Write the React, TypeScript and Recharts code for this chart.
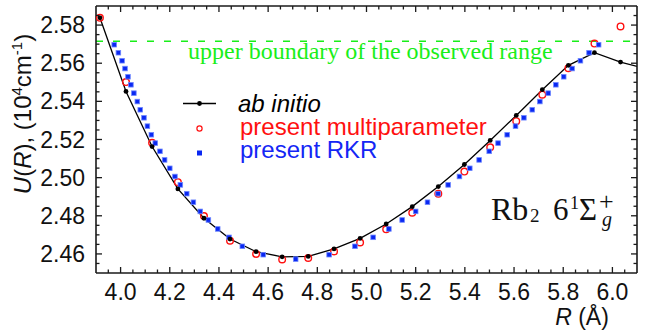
import React from 'react';
import { ComposedChart, Line, Scatter, XAxis, YAxis, ReferenceLine, Legend } from 'recharts';

// ab initio points (R in Å, U in 10^4 cm^-1)
const abInitioR = [3.916, 4.022, 4.128, 4.233, 4.339, 4.445, 4.551, 4.657, 4.763, 4.868, 4.974, 5.080, 5.186, 5.292, 5.398, 5.503, 5.609, 5.715, 5.821, 5.927, 6.033, 6.138];
const abInitioU = [2.5838, 2.5452, 2.5163, 2.4941, 2.4787, 2.4678, 2.4612, 2.4585, 2.4587, 2.4626, 2.4682, 2.4757, 2.4848, 2.4953, 2.5069, 2.5195, 2.5326, 2.5461, 2.5589, 2.5655, 2.5606, 2.5571];

// present multiparameter potential
const multiR = [3.916, 4.022, 4.128, 4.233, 4.339, 4.445, 4.551, 4.657, 4.763, 4.868, 4.974, 5.080, 5.186, 5.292, 5.398, 5.503, 5.609, 5.715, 5.821, 5.927, 6.033];
const multiU = [2.5838, 2.5501, 2.5183, 2.4976, 2.4799, 2.4669, 2.4600, 2.4571, 2.4579, 2.4613, 2.4660, 2.4729, 2.4816, 2.4915, 2.5032, 2.5159, 2.5296, 2.5435, 2.5574, 2.5703, 2.5793];

// present RKR turning points: level energies, inner and outer branches
const rkrU = [2.5697, 2.5655, 2.5613, 2.5572, 2.5529, 2.5487, 2.5443, 2.5399, 2.5356, 2.5314, 2.5270, 2.5225, 2.5181, 2.5138, 2.5093, 2.5049, 2.5006, 2.4962, 2.4916, 2.4871, 2.4823, 2.4778, 2.4731, 2.4687, 2.4640, 2.4596];
const rkrInner = [3.974, 3.991, 4.006, 4.018, 4.030, 4.042, 4.054, 4.068, 4.080, 4.095, 4.109, 4.125, 4.141, 4.160, 4.179, 4.200, 4.221, 4.243, 4.269, 4.296, 4.324, 4.357, 4.395, 4.441, 4.495, 4.580];
const rkrOuter = [5.944, 5.905, 5.870, 5.836, 5.802, 5.770, 5.739, 5.705, 5.674, 5.640, 5.606, 5.572, 5.535, 5.499, 5.458, 5.420, 5.378, 5.332, 5.291, 5.248, 5.200, 5.145, 5.091, 5.027, 4.953, 4.848];
const rkrMinR = 4.712;
const rkrMinU = 2.4573;

const upperBoundary = 2.5715;

const xLabelTicks = [4.0, 4.2, 4.4, 4.6, 4.8, 5.0, 5.2, 5.4, 5.6, 5.8, 6.0];
const yLabelTicks = [2.46, 2.48, 2.50, 2.52, 2.54, 2.56, 2.58];

const X_DOMAIN = [3.9, 6.1];
const Y_DOMAIN = [2.45, 2.59];

// minor tick positions (every 0.05 Å and 0.005)
const xTicks = Array.from({ length: 43 }, (_, i) => +(3.95 + i * 0.05).toFixed(2));
const yTicks = Array.from({ length: 27 }, (_, i) => +(2.455 + i * 0.005).toFixed(3));

const abInitioData = abInitioR.map((r, i) => ({ r, u: abInitioU[i] }));
const multiData = multiR.map((r, i) => ({ r, u: multiU[i] }));
const rkrData = [
  ...rkrInner.map((r, i) => ({ r, u: rkrU[i] })),
  { r: rkrMinR, u: rkrMinU },
  ...rkrOuter.map((r, i) => ({ r, u: rkrU[i] })),
];

const AXIS = '#1a1a1a';
const SANS = '"Liberation Sans", Arial, Helvetica, sans-serif';
const SERIF = '"Liberation Serif", "Times New Roman", serif';
const GREEN = '#19ee19';

const isIn = (list: number[], v: number) => list.some((t) => Math.abs(t - v) < 1e-6);

const BottomTick = (props: any) => {
  const { x, y, payload } = props;
  const major = isIn(xLabelTicks, payload.value);
  return (
    <g>
      <line x1={x} x2={x} y1={y} y2={y - (major ? 6 : 3.5)} stroke={AXIS} strokeWidth={1.3} />
      {major && (
        <text x={x} y={y + 27} textAnchor="middle" fontFamily={SANS} fontSize={23} fill="#111">
          {payload.value.toFixed(1)}
        </text>
      )}
    </g>
  );
};

const TopTick = (props: any) => {
  const { x, y, payload } = props;
  const major = isIn(xLabelTicks, payload.value);
  return <line x1={x} x2={x} y1={y} y2={y + (major ? 6 : 3.5)} stroke={AXIS} strokeWidth={1.3} />;
};

const LeftTick = (props: any) => {
  const { x, y, payload } = props;
  const major = isIn(yLabelTicks, payload.value);
  return (
    <g>
      <line x1={x} x2={x + (major ? 6 : 3.5)} y1={y} y2={y} stroke={AXIS} strokeWidth={1.3} />
      {major && (
        <text x={x - 11} y={y + 8} textAnchor="end" fontFamily={SANS} fontSize={23} fill="#111">
          {payload.value.toFixed(2)}
        </text>
      )}
    </g>
  );
};

const RightTick = (props: any) => {
  const { x, y, payload } = props;
  const major = isIn(yLabelTicks, payload.value);
  return <line x1={x} x2={x - (major ? 6 : 3.5)} y1={y} y2={y} stroke={AXIS} strokeWidth={1.3} />;
};

const RkrSquare = (props: any) => {
  const { cx, cy } = props;
  if (cx == null || cy == null) return <g />;
  return <rect x={cx - 2.3} y={cy - 2.3} width={4.6} height={4.6} fill="#0a28f2" stroke="#6f88ff" strokeWidth={0.8} />;
};

const MultiCircle = (props: any) => {
  const { cx, cy } = props;
  if (cx == null || cy == null) return <g />;
  return <circle cx={cx} cy={cy} r={3.3} fill="none" stroke="#ff1010" strokeWidth={1.4} />;
};

const renderLegend = () => (
  <svg width={646} height={333} style={{ display: 'block' }}>
    <line x1={183} x2={216} y1={103.5} y2={103.5} stroke="#000" strokeWidth={1.3} />
    <circle cx={199.5} cy={103.5} r={2.4} fill="#000" />
    <text x={238} y={112} fontFamily={SANS} fontSize={24} fontStyle="italic" fill="#000">ab initio</text>
    <circle cx={199.5} cy={128.5} r={2.6} fill="none" stroke="#ff1010" strokeWidth={1.2} />
    <text x={240} y={134.5} fontFamily={SANS} fontSize={24} fill="#ff1010">present multiparameter</text>
    <rect x={197} y={150.5} width={5} height={5} fill="#0a28f2" />
    <text x={240} y={157.5} fontFamily={SANS} fontSize={24} fill="#1426f5">present RKR</text>
  </svg>
);

export default function App() {
  return (
    <div style={{ position: 'absolute', left: 0, top: 0, width: 646, height: 333, background: '#fff' }}>
      <ComposedChart width={646} height={333} margin={{ top: 0, right: 0, bottom: 0, left: 0 }}>
        <XAxis
          xAxisId={0}
          type="number"
          dataKey="r"
          domain={X_DOMAIN}
          allowDataOverflow
          ticks={xTicks}
          interval={0}
          height={60}
          tickSize={0}
          tickMargin={0}
          tickLine={false}
          tick={<BottomTick />}
          axisLine={{ stroke: AXIS, strokeWidth: 1.6 }}
        />
        <XAxis
          xAxisId="top"
          orientation="top"
          type="number"
          dataKey="r"
          domain={X_DOMAIN}
          allowDataOverflow
          ticks={xTicks}
          interval={0}
          height={6}
          tickSize={0}
          tickMargin={0}
          tickLine={false}
          tick={<TopTick />}
          axisLine={{ stroke: AXIS, strokeWidth: 1.6 }}
        />
        <YAxis
          yAxisId={0}
          type="number"
          dataKey="u"
          domain={Y_DOMAIN}
          allowDataOverflow
          ticks={yTicks}
          interval={0}
          width={96}
          tickSize={0}
          tickMargin={0}
          tickLine={false}
          tick={<LeftTick />}
          axisLine={{ stroke: AXIS, strokeWidth: 1.6 }}
        />
        <YAxis
          yAxisId="right"
          orientation="right"
          type="number"
          dataKey="u"
          domain={Y_DOMAIN}
          allowDataOverflow
          ticks={yTicks}
          interval={0}
          width={9}
          tickSize={0}
          tickMargin={0}
          tickLine={false}
          tick={<RightTick />}
          axisLine={{ stroke: AXIS, strokeWidth: 1.6 }}
        />
        <ReferenceLine y={upperBoundary} stroke={GREEN} strokeWidth={1.6} strokeDasharray="7 10" />
        <Line
          name="ab initio"
          data={abInitioData}
          dataKey="u"
          type="linear"
          stroke="#000"
          strokeWidth={1.3}
          dot={{ r: 2.4, fill: '#000', stroke: 'none' }}
          activeDot={false}
          isAnimationActive={false}
        />
        <Scatter name="present multiparameter" data={multiData} dataKey="u" shape={<MultiCircle />} isAnimationActive={false} />
        <Scatter name="present RKR" data={rkrData} dataKey="u" shape={<RkrSquare />} isAnimationActive={false} />
        <Legend
          layout="vertical"
          align="center"
          verticalAlign="middle"
          content={renderLegend}
          wrapperStyle={{ left: 0, top: 0, width: 646, height: 333, pointerEvents: 'none' }}
        />
      </ComposedChart>
      <svg width={646} height={333} style={{ position: 'absolute', left: 0, top: 0, pointerEvents: 'none' }}>
        <text x={188} y={58.5} fontFamily={SERIF} fontSize={24} fill={GREEN}>
          upper boundary of the observed range
        </text>
        <text transform="rotate(-90 31 114)" x={31} y={114} textAnchor="middle" fontFamily={SANS} fontSize={24} fill="#111">
          <tspan fontStyle="italic">U</tspan>(<tspan fontStyle="italic">R</tspan>), (10
          <tspan dy={-9} fontSize={15}>4</tspan>
          <tspan dy={9}>cm</tspan>
          <tspan dy={-9} fontSize={15}>-1</tspan>
          <tspan dy={9}>)</tspan>
        </text>
        <text x={582} y={325} textAnchor="middle" fontFamily={SANS} fontSize={23} fill="#111">
          <tspan fontStyle="italic">R</tspan> (Å)
        </text>
        <g fontFamily={SERIF} fill="#111">
          <text x={491} y={220} fontSize={32}>Rb</text>
          <text x={530} y={222} fontSize={19}>2</text>
          <text x={553} y={220} fontSize={31}>6</text>
          <text x={570} y={209} fontSize={18}>1</text>
          <text x={579} y={220} fontSize={31}>Σ</text>
          <text x={599} y={210} fontSize={26}>+</text>
          <text x={602} y={226} fontSize={20} fontStyle="italic">g</text>
        </g>
      </svg>
    </div>
  );
}
